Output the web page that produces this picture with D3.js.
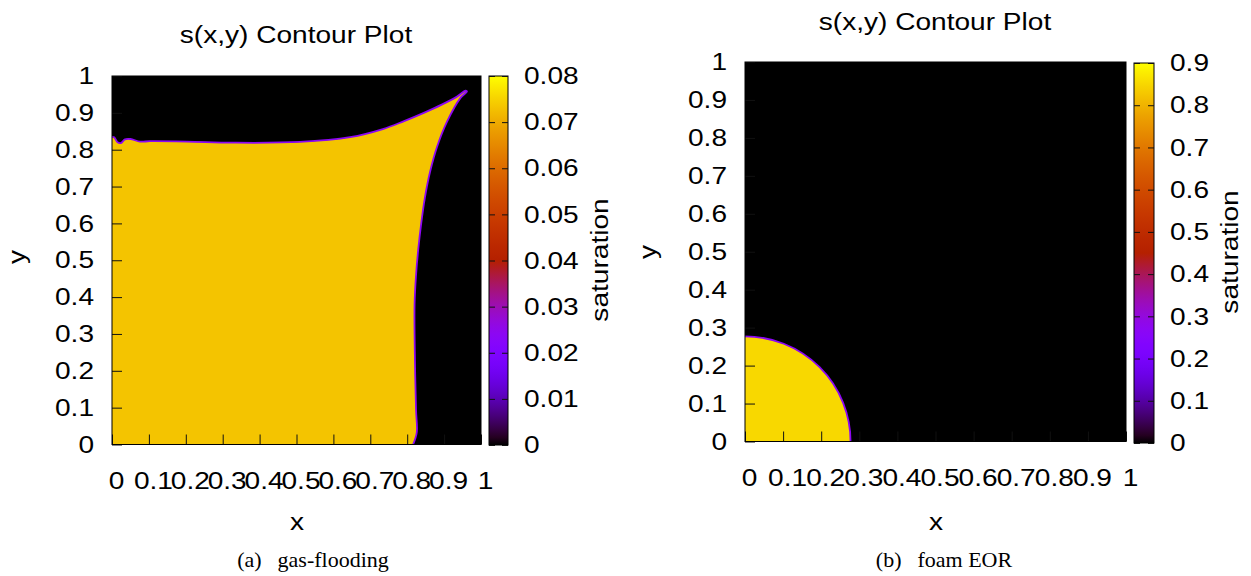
<!DOCTYPE html>
<html>
<head>
<meta charset="utf-8">
<script src="https://cdn.jsdelivr.net/npm/d3@7"></script>
<style>
  body { margin: 0; background: #fff; }
  text { font-family: "Liberation Sans", Arial, sans-serif; fill: #000; }
  .cap { font-family: "Liberation Serif", "Times New Roman", serif; }
</style>
</head>
<body>
<svg id="chart" width="1251" height="576"></svg>
<script>
// ---- data ----
const axisTicks = [0, 0.1, 0.2, 0.3, 0.4, 0.5, 0.6, 0.7, 0.8, 0.9, 1];
const gasBarTicks = [0, 0.01, 0.02, 0.03, 0.04, 0.05, 0.06, 0.07, 0.08];
const foamBarTicks = [0, 0.1, 0.2, 0.3, 0.4, 0.5, 0.6, 0.7, 0.8, 0.9];

// gas-flooding: front of the saturated region, from the left wall round to the bottom
const gasFront = [
  [0.000, 0.835], [0.006, 0.834], [0.015, 0.820], [0.024, 0.818], [0.035, 0.828],
  [0.050, 0.829], [0.076, 0.822], [0.103, 0.823], [0.203, 0.822], [0.328, 0.819],
  [0.509, 0.821], [0.645, 0.834], [0.734, 0.856], [0.790, 0.877], [0.845, 0.900],
  [0.895, 0.923], [0.935, 0.944], [0.958, 0.960], [0.962, 0.958], [0.944, 0.940],
  [0.908, 0.876], [0.881, 0.808], [0.862, 0.740], [0.848, 0.670], [0.838, 0.600],
  [0.830, 0.530], [0.824, 0.460], [0.820, 0.380], [0.821, 0.228], [0.824, 0.092],
  [0.826, 0.033], [0.816, 0.000]
];
const gasLevel = 0.0733;
const gasMax = 0.08;

// foam EOR: quarter disc round the injection corner
const foamRadius = 0.277;
const foamLevel = 0.851;
const foamMax = 0.9;

const titles = ["s(x,y) Contour Plot", "s(x,y) Contour Plot"];
const captions = [["(a)", "gas-flooding"], ["(b)", "foam EOR"]];

// ---- helpers ----
const SX = 1.17;   // the reference font is wider than Liberation Sans
const FS = 24;

// gnuplot default palette (rgbformulae 7,5,15)
function pal(t) {
  t = Math.max(0, Math.min(1, t));
  const r = Math.sqrt(t), g = t * t * t, b = Math.max(0, Math.sin(2 * Math.PI * t));
  return d3.rgb(r * 255, g * 255, b * 255).formatHex();
}

function stretch(sel, dx = 0) {
  sel.each(function() {
    const t = d3.select(this);
    const x = (+t.attr("x") || 0) + dx;
    t.attr("x", 0).attr("transform", `translate(${x},0) scale(${SX},1)`);
  });
}

function label(g, x, y, txt, opts = {}) {
  const rot = opts.rotate ? " rotate(-90)" : "";
  const t = g.append("text")
    .attr("transform", `translate(${x},${y})${rot} scale(${SX},1)`)
    .attr("text-anchor", opts.anchor || "middle")
    .attr("font-size", FS)
    .text(txt);
  if (opts.dy) t.attr("dy", opts.dy);
  return t;
}

const svg = d3.select("#chart");
svg.append("rect").attr("width", 1251).attr("height", 576).attr("fill", "#fff");

const panels = [
  { id: "a", plot: { x0: 112, x1: 481, y0: 76, y1: 444.5 }, bar: { x0: 489, x1: 508, y0: 76, y1: 445 },
    max: gasMax, barTicks: gasBarTicks, title: [296, 43], ylab: [20, 257], xlab: [297, 530],
    sat: [600, 260], cap: [313, 567] },
  { id: "b", plot: { x0: 745, x1: 1126, y0: 62, y1: 441.5 }, bar: { x0: 1134, x1: 1154, y0: 63, y1: 443 },
    max: foamMax, barTicks: foamBarTicks, title: [935, 30], ylab: [651, 252], xlab: [936, 530],
    sat: [1230, 252], cap: [944, 567] }
];

const defs = svg.append("defs");

panels.forEach((p, i) => {
  const g = svg.append("g");
  const x = d3.scaleLinear([0, 1], [p.plot.x0, p.plot.x1]);
  const y = d3.scaleLinear([0, 1], [p.plot.y1, p.plot.y0]);
  const c = d3.scaleLinear([0, p.max], [0, 1]);

  defs.append("clipPath").attr("id", "clip-" + p.id)
    .append("rect").attr("x", x(0)).attr("y", y(1))
    .attr("width", x(1) - x(0)).attr("height", y(0) - y(1));

  const field = g.append("g").attr("clip-path", `url(#clip-${p.id})`);
  field.append("rect").attr("x", x(0)).attr("y", y(1))
    .attr("width", x(1) - x(0)).attr("height", y(0) - y(1))
    .attr("fill", pal(c(0)));

  const edge = pal(0.3);
  if (p.id === "a") {
    const line = d3.line().x(d => x(d[0])).y(d => y(d[1])).curve(d3.curveCatmullRom.alpha(0.5));
    field.append("path").attr("d", line(gasFront) + `L${x(0)},${y(0)}Z`)
      .attr("fill", pal(c(gasLevel)));
    field.append("path").attr("d", line(gasFront))
      .attr("fill", "none").attr("stroke", edge).attr("stroke-width", 1.8);
  } else {
    const rx = x(foamRadius) - x(0), ry = y(0) - y(foamRadius);
    const arc = `A${rx},${ry} 0 0 1 ${x(foamRadius)},${y(0)}`;
    field.append("path").attr("d", `M${x(0)},${y(0)}L${x(0)},${y(foamRadius)}${arc}Z`)
      .attr("fill", pal(c(foamLevel)));
    field.append("path").attr("d", `M${x(0)},${y(foamRadius)}${arc}`)
      .attr("fill", "none").attr("stroke", edge).attr("stroke-width", 1.8);
  }

  // axes with inward ticks
  const ax = g.append("g").attr("transform", `translate(0,${y(0)})`)
    .call(d3.axisBottom(x).tickValues(axisTicks).tickFormat(d => d).tickSizeInner(-10).tickSizeOuter(0).tickPadding(27));
  const ay = g.append("g").attr("transform", `translate(${x(0)},0)`)
    .call(d3.axisLeft(y).tickValues(axisTicks).tickFormat(d => d).tickSizeInner(-10).tickSizeOuter(0).tickPadding(18));
  [ax, ay].forEach(a => {
    a.select(".domain").remove();
    a.selectAll("line").attr("stroke", "#111");
    a.selectAll("text").attr("font-size", FS).attr("font-family", null);
  });
  ax.selectAll("text").call(stretch, 4);
  ay.selectAll("text").call(stretch);

  g.append("rect").attr("x", x(0)).attr("y", y(1))
    .attr("width", x(1) - x(0)).attr("height", y(0) - y(1))
    .attr("fill", "none").attr("stroke", "#000").attr("stroke-width", 1);

  // colour bar
  const grad = defs.append("linearGradient").attr("id", "grad-" + p.id)
    .attr("x1", 0).attr("y1", 1).attr("x2", 0).attr("y2", 0);
  d3.range(0, 1.0001, 0.02).forEach(t => grad.append("stop").attr("offset", t).attr("stop-color", pal(t)));
  const cb = d3.scaleLinear([0, p.max], [p.bar.y1, p.bar.y0]);
  g.append("rect").attr("x", p.bar.x0).attr("y", p.bar.y0)
    .attr("width", p.bar.x1 - p.bar.x0).attr("height", p.bar.y1 - p.bar.y0)
    .attr("fill", `url(#grad-${p.id})`).attr("stroke", "#000").attr("stroke-width", 1);
  const br = g.append("g").attr("transform", `translate(${p.bar.x1},0)`)
    .call(d3.axisRight(cb).tickValues(p.barTicks).tickFormat(d => d).tickSizeInner(-6).tickSizeOuter(0).tickPadding(16));
  const bl = g.append("g").attr("transform", `translate(${p.bar.x0},0)`)
    .call(d3.axisLeft(cb).tickValues(p.barTicks).tickFormat("").tickSizeInner(-6).tickSizeOuter(0));
  [br, bl].forEach(a => { a.select(".domain").remove(); a.selectAll("line").attr("stroke", "#111"); });
  br.selectAll("text").attr("font-size", FS).attr("font-family", null).call(stretch);

  // labels
  label(g, p.title[0], p.title[1], titles[i]);
  label(g, p.xlab[0], p.xlab[1], "x");
  label(g, p.ylab[0], p.ylab[1], "y", { rotate: true, dy: "0.2em" });
  label(g, p.sat[0], p.sat[1], "saturation", { rotate: true, dy: "0.35em" });

  const capT = g.append("text").attr("class", "cap")
    .attr("x", p.cap[0]).attr("y", p.cap[1])
    .attr("text-anchor", "middle").attr("font-size", 22).attr("fill", "#222");
  capT.append("tspan").text(captions[i][0]);
  capT.append("tspan").attr("dx", 16).text(captions[i][1]);
});
</script>
</body>
</html>
